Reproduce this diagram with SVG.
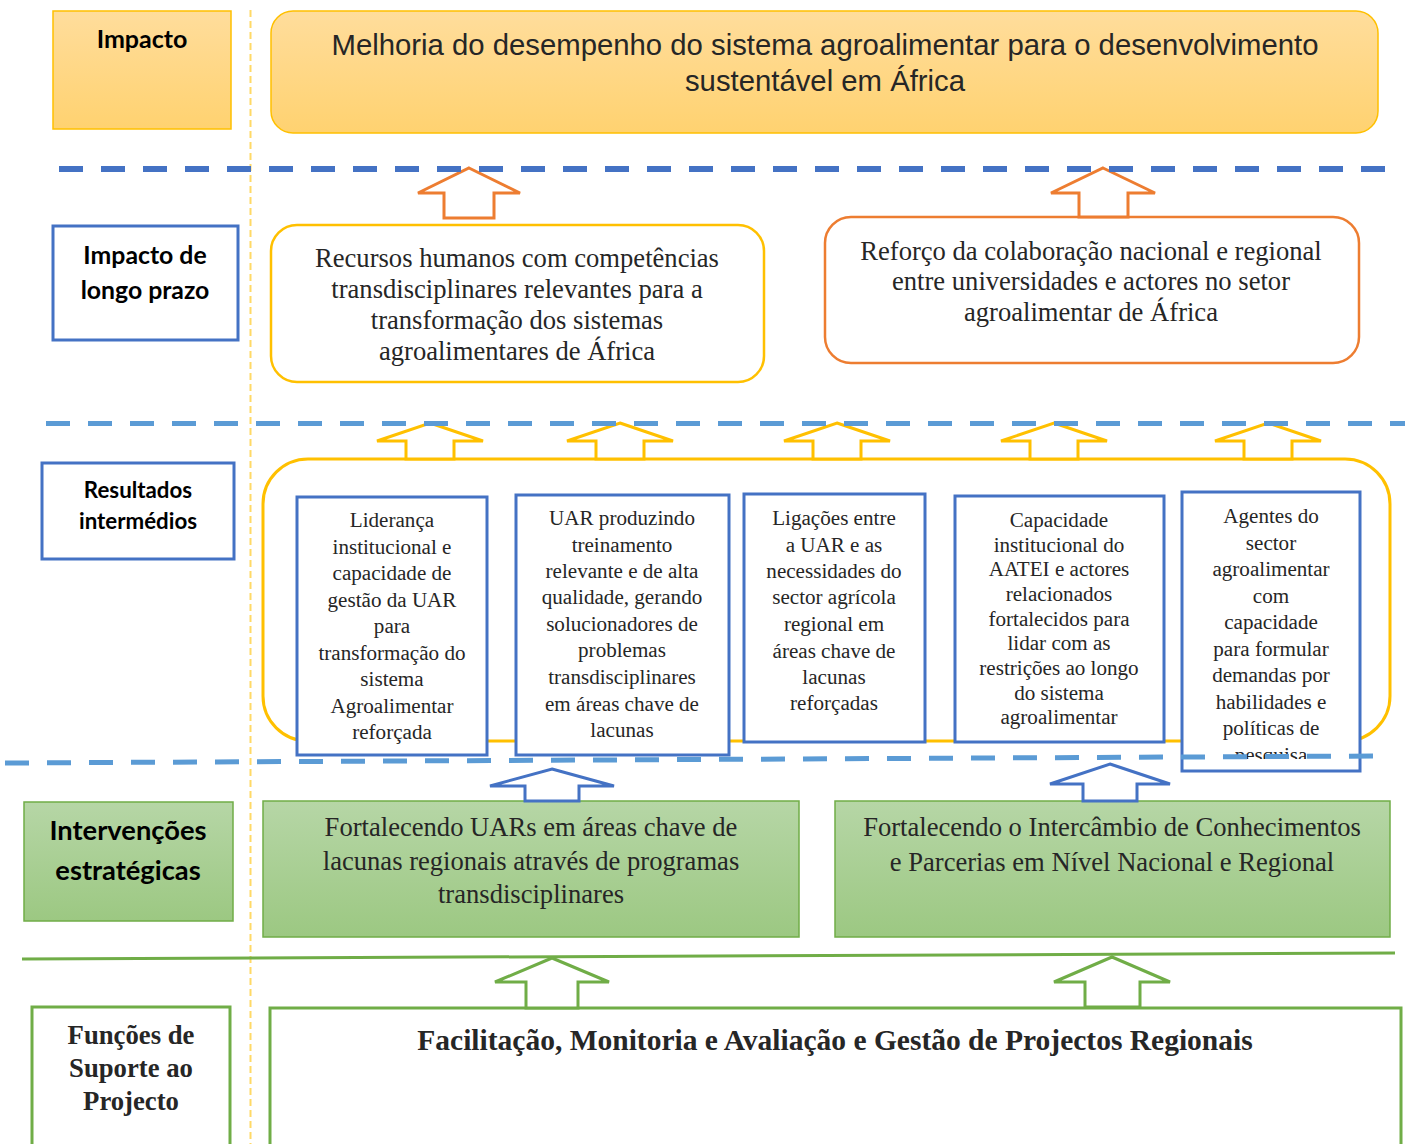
<svg xmlns="http://www.w3.org/2000/svg" width="1405" height="1144" viewBox="0 0 1405 1144">
<defs>
<linearGradient id="gGold" x1="0" y1="0" x2="0" y2="1"><stop offset="0" stop-color="#FFDD9C"/><stop offset="1" stop-color="#FFD270"/></linearGradient>
<linearGradient id="gGreen" x1="0" y1="0" x2="0" y2="1"><stop offset="0" stop-color="#B6D6A6"/><stop offset="1" stop-color="#9CC882"/></linearGradient>
<clipPath id="clipP"><rect x="1180" y="490" width="185" height="269"/></clipPath>
<style>
.lab{font-family:Lato,"Liberation Sans",sans-serif;font-weight:bold;fill:#000;text-anchor:middle}
.ser{font-family:"Liberation Serif","Times New Roman",serif;fill:#262626;text-anchor:middle}
.serb{font-family:"Liberation Serif","Times New Roman",serif;font-weight:bold;fill:#262626;text-anchor:middle}
.ari{font-family:"Liberation Sans",Arial,sans-serif;fill:#262626;text-anchor:middle}
.bbox{fill:#fff;stroke:#4472C4;stroke-width:3}
.gbox{fill:url(#gGreen);stroke:#70AD47;stroke-width:1.5}
.wgbox{fill:#fff;stroke:#70AD47;stroke-width:3}
.ya{fill:#fff;stroke:#FFC000;stroke-width:3}
.oa{fill:#fff;stroke:#ED7D31;stroke-width:3}
.ba{fill:#fff;stroke:#4472C4;stroke-width:3}
.ga{fill:#fff;stroke:#70AD47;stroke-width:3}
.dash1{stroke:#4472C4;stroke-width:6;stroke-dasharray:24 18;fill:none}
.dash2{stroke:#5B9BD5;stroke-width:5;stroke-dasharray:24 18;fill:none}
</style>
</defs>
<rect width="1405" height="1144" fill="#fff"/>

<line x1="250.5" y1="10" x2="250.5" y2="1144" stroke="#FFD966" stroke-width="2" stroke-dasharray="7 4"/>

<g id="label-impacto">
<rect x="53" y="11" width="178" height="118" fill="url(#gGold)" stroke="#FFC000" stroke-width="1.5"/>
<text class="lab" x="142" y="48" font-size="25">Impacto</text>
</g>
<g id="impacto">
<rect x="271" y="11" width="1107" height="122" rx="22" fill="url(#gGold)" stroke="#FFC000" stroke-width="1.5"/>
<text class="ari" font-size="29.3"><tspan x="825" y="55">Melhoria do desempenho do sistema agroalimentar para o desenvolvimento</tspan><tspan x="825" y="91">sustentável em África</tspan></text>
</g>

<g id="label-longo-prazo">
<rect x="53" y="226" width="185" height="114" class="bbox" stroke-width="2.5"/>
<text class="lab" font-size="24.8"><tspan x="145" y="264">Impacto de</tspan><tspan x="145" y="299">longo prazo</tspan></text>
</g>
<g id="recursos-humanos">
<rect x="271" y="225" width="493" height="157" rx="26" fill="#fff" stroke="#FFC000" stroke-width="2.5"/>
<text class="ser" font-size="26.6"><tspan x="517" y="267">Recursos humanos com competências</tspan><tspan x="517" y="298">transdisciplinares relevantes para a</tspan><tspan x="517" y="329">transformação dos sistemas</tspan><tspan x="517" y="360">agroalimentares de África</tspan></text>
</g>
<g id="reforco-colaboracao">
<rect x="825" y="217" width="534" height="146" rx="26" fill="#fff" stroke="#ED7D31" stroke-width="2.5"/>
<text class="ser" font-size="26.6"><tspan x="1091" y="260">Reforço da colaboração nacional e regional</tspan><tspan x="1091" y="290">entre universidades e actores no setor</tspan><tspan x="1091" y="321">agroalimentar de África</tspan></text>
</g>

<g id="label-resultados">
<rect x="42" y="463" width="192" height="96" class="bbox" stroke-width="2.5"/>
<text class="lab" font-size="22.3"><tspan x="138" y="498">Resultados</tspan><tspan x="138" y="529">intermédios</tspan></text>
</g>
<g id="resultados-container">
<rect x="263" y="459" width="1127" height="282" rx="45" fill="#fff" stroke="#FFC000" stroke-width="3"/>
</g>
<g id="resultado-1">
<rect x="297" y="497" width="190" height="258" class="bbox"/>
<text class="ser" font-size="21.1"><tspan x="392" y="527">Liderança</tspan><tspan x="392" y="554">institucional e</tspan><tspan x="392" y="580">capacidade de</tspan><tspan x="392" y="607">gestão da UAR</tspan><tspan x="392" y="633">para</tspan><tspan x="392" y="660">transformação do</tspan><tspan x="392" y="686">sistema</tspan><tspan x="392" y="713">Agroalimentar</tspan><tspan x="392" y="739">reforçada</tspan></text>
</g>
<g id="resultado-2">
<rect x="516" y="495" width="213" height="260" class="bbox"/>
<text class="ser" font-size="21.1"><tspan x="622" y="525">UAR produzindo</tspan><tspan x="622" y="552">treinamento</tspan><tspan x="622" y="578">relevante e de alta</tspan><tspan x="622" y="604">qualidade, gerando</tspan><tspan x="622" y="631">solucionadores de</tspan><tspan x="622" y="657">problemas</tspan><tspan x="622" y="684">transdisciplinares</tspan><tspan x="622" y="711">em áreas chave de</tspan><tspan x="622" y="737">lacunas</tspan></text>
</g>
<g id="resultado-3">
<rect x="744" y="494" width="181" height="248" class="bbox"/>
<text class="ser" font-size="21.1"><tspan x="834" y="525">Ligações entre</tspan><tspan x="834" y="552">a UAR e as</tspan><tspan x="834" y="578">necessidades do</tspan><tspan x="834" y="604">sector agrícola</tspan><tspan x="834" y="631">regional em</tspan><tspan x="834" y="658">áreas chave de</tspan><tspan x="834" y="684">lacunas</tspan><tspan x="834" y="710">reforçadas</tspan></text>
</g>
<g id="resultado-4">
<rect x="955" y="496" width="209" height="246" class="bbox"/>
<text class="ser" font-size="21.1"><tspan x="1059" y="527">Capacidade</tspan><tspan x="1059" y="552">institucional do</tspan><tspan x="1059" y="576">AATEI e actores</tspan><tspan x="1059" y="601">relacionados</tspan><tspan x="1059" y="626">fortalecidos para</tspan><tspan x="1059" y="650">lidar com as</tspan><tspan x="1059" y="675">restrições ao longo</tspan><tspan x="1059" y="700">do sistema</tspan><tspan x="1059" y="724">agroalimentar</tspan></text>
</g>
<g id="resultado-5">
<rect x="1182" y="492" width="178" height="279" class="bbox"/>
<text class="ser" font-size="21.1" clip-path="url(#clipP)"><tspan x="1271" y="523">Agentes do</tspan><tspan x="1271" y="550">sector</tspan><tspan x="1271" y="576">agroalimentar</tspan><tspan x="1271" y="603">com</tspan><tspan x="1271" y="629">capacidade</tspan><tspan x="1271" y="656">para formular</tspan><tspan x="1271" y="682">demandas por</tspan><tspan x="1271" y="709">habilidades e</tspan><tspan x="1271" y="735">políticas de</tspan><tspan x="1271" y="762">pesquisa</tspan></text>
</g>

<g id="label-intervencoes">
<rect x="24" y="802" width="209" height="119" class="gbox"/>
<text class="lab" font-size="27.3"><tspan x="128" y="840">Intervenções</tspan><tspan x="128" y="880">estratégicas</tspan></text>
</g>
<g id="intervencao-1">
<rect x="263" y="801" width="536" height="136" class="gbox"/>
<text class="ser" font-size="26.6"><tspan x="531" y="836">Fortalecendo UARs em áreas chave de</tspan><tspan x="531" y="870">lacunas regionais através de programas</tspan><tspan x="531" y="903">transdisciplinares</tspan></text>
</g>
<g id="intervencao-2">
<rect x="835" y="801" width="555" height="136" class="gbox"/>
<text class="ser" font-size="26.6"><tspan x="1112" y="836">Fortalecendo o Intercâmbio de Conhecimentos</tspan><tspan x="1112" y="871">e Parcerias em Nível Nacional e Regional</tspan></text>
</g>

<g id="label-funcoes">
<rect x="32" y="1007" width="198" height="150" class="wgbox"/>
<text class="serb" font-size="26.7"><tspan x="131" y="1044">Funções de</tspan><tspan x="131" y="1077">Suporte ao</tspan><tspan x="131" y="1110">Projecto</tspan></text>
</g>
<g id="facilitacao">
<rect x="270" y="1008" width="1131" height="150" class="wgbox"/>
<text class="serb" font-size="29.5" x="835" y="1050">Facilitação, Monitoria e Avaliação e Gestão de Projectos Regionais</text>
</g>

<g id="connectors">
<polygon class="oa" points="469,168 520,193 494,193 494,218 444,218 444,193 418,193"/>
<polygon class="oa" points="1103,168 1155,193 1128,193 1128,217 1079,217 1079,193 1051,193"/>
<polygon class="ya" points="430,423 483,441 454,441 454,459 406,459 406,441 377,441"/>
<polygon class="ya" points="620,423 673,441 644,441 644,459 596,459 596,441 567,441"/>
<polygon class="ya" points="837,423 890,441 861,441 861,459 813,459 813,441 784,441"/>
<polygon class="ya" points="1054,423 1107,441 1078,441 1078,459 1030,459 1030,441 1001,441"/>
<polygon class="ya" points="1268,423 1321,441 1292,441 1292,459 1244,459 1244,441 1215,441"/>
<polygon class="ba" points="552,769 614,786 579,786 579,801 525,801 525,786 490,786"/>
<polygon class="ba" points="1110,764 1170,784 1137,784 1137,801 1083,801 1083,784 1050,784"/>
<polygon class="ga" points="552,958 609,982 578,982 578,1008 526,1008 526,982 495,982"/>
<polygon class="ga" points="1112,957 1170,982 1140,982 1140,1007 1085,1007 1085,982 1054,982"/>
</g>

<g id="separators">
<line class="dash1" x1="59" y1="169" x2="1390" y2="169"/>
<line class="dash2" x1="46" y1="423.5" x2="1405" y2="423.5"/>
<line class="dash2" x1="5" y1="763" x2="1378" y2="756"/>
<line x1="22" y1="959" x2="1395" y2="953" stroke="#70AD47" stroke-width="3"/>
</g>
</svg>
